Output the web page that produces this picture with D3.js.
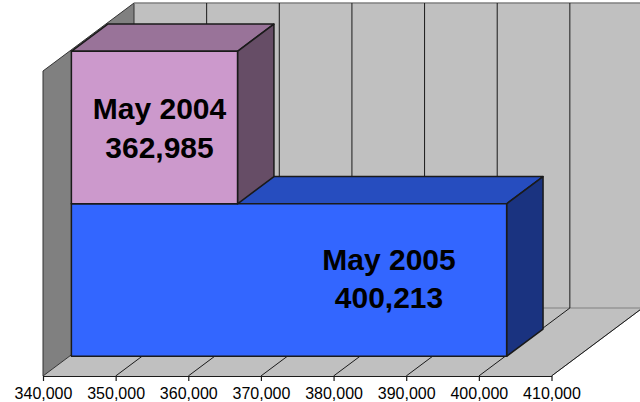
<!DOCTYPE html>
<html>
<head>
<meta charset="utf-8">
<script src="https://cdnjs.cloudflare.com/ajax/libs/d3/7.8.5/d3.min.js"></script>
<style>
    html, body { margin: 0; padding: 0; background: #fff; overflow: hidden; }
    text { font-family: "Liberation Sans", Arial, sans-serif; fill: #000; }
</style>
</head>
<body>
<svg id="chart" width="640" height="402"></svg>
<script>
// Chart data
const categories = ["May 2005", "May 2004"];
const values = [400213, 362985];
const tickValues = [340000, 350000, 360000, 370000, 380000, 390000, 400000, 410000];

// Colours
const wallColour = "#C0C0C0";
const sideWallColour = "#808080";
const lineColour = "#1A1A1A";
const barColours = [
    { front: "#3366FF", top: "#264DBF", side: "#1A3380" },
    { front: "#CC99CC", top: "#997399", side: "#664D66" }
];

const svg = d3.select("#chart");

const x = d3.scaleLinear().domain([340000, 410000]).range([43, 551.5]);
const barX = d3.scaleLinear().domain([340000, 410000]).range([45, 551]);
const y = d3.scaleBand().domain(categories).range([376, 71]);

// Depth of the 3d box, 0 is the front edge and 1 the back wall
const depthX = d3.scaleLinear().domain([0, 1]).range([0, 91]);
const depthY = d3.scaleLinear().domain([0, 1]).range([0, -68]);
const barFront = 0.29;
const barBack = 0.69;

// Project a value / height / depth onto the screen
function pt(xPix, yPix, depth) {
    return [xPix + depthX(depth), yPix + depthY(depth)];
}
function face(points) {
    return "M" + points.map(p => p.join(",")).join("L") + "Z";
}

const xMin = x.range()[0], xMax = x.range()[1];
const yBottom = y.range()[0], yTop = y.range()[1];

// Back wall
svg.append("path")
    .attr("d", face([pt(xMin, yTop, 1), pt(xMax, yTop, 1), pt(xMax, yBottom, 1), pt(xMin, yBottom, 1)]))
    .attr("fill", wallColour);
// Floor
svg.append("path")
    .attr("d", face([pt(xMin, yBottom, 0), pt(xMax, yBottom, 0), pt(xMax, yBottom, 1), pt(xMin, yBottom, 1)]))
    .attr("fill", wallColour);
// Left wall
svg.append("path")
    .attr("d", face([pt(xMin, yBottom, 0), pt(xMin, yTop, 0), pt(xMin, yTop, 1), pt(xMin, yBottom, 1)]))
    .attr("fill", sideWallColour)
    .attr("stroke", "#333")
    .attr("stroke-width", 1);

// Top edge of the back wall and edge of the floor
svg.append("line")
    .attr("x1", pt(xMin, yTop, 1)[0]).attr("y1", pt(xMin, yTop, 1)[1])
    .attr("x2", pt(xMax, yTop, 1)[0]).attr("y2", pt(xMax, yTop, 1)[1])
    .attr("stroke", "#808080").attr("stroke-width", 1.5);
svg.append("line")
    .attr("x1", pt(xMin, yBottom, 1)[0]).attr("y1", pt(xMin, yBottom, 1)[1])
    .attr("x2", pt(xMax, yBottom, 1)[0]).attr("y2", pt(xMax, yBottom, 1)[1])
    .attr("stroke", "#808080").attr("stroke-width", 1);
svg.append("line")
    .attr("x1", pt(xMax, yBottom, 0)[0]).attr("y1", pt(xMax, yBottom, 0)[1])
    .attr("x2", pt(xMax, yBottom, 1)[0]).attr("y2", pt(xMax, yBottom, 1)[1])
    .attr("stroke", "#808080").attr("stroke-width", 1);

// Gridlines over floor and back wall
svg.append("g").selectAll("path")
    .data(tickValues.slice(1))
    .enter()
    .append("path")
    .attr("d", d => {
        const a = pt(x(d), yBottom, 0), b = pt(x(d), yBottom, 1), c = pt(x(d), yTop, 1);
        return "M" + a.join(",") + "L" + b.join(",") + "L" + c.join(",");
    })
    .attr("fill", "none")
    .attr("stroke", lineColour)
    .attr("stroke-width", 1);

// Bars, bottom one first so the upper one sits on top of it
categories.forEach((cat, i) => {
    const x0 = barX.range()[0], x1 = barX(values[i]);
    const yLow = y(cat) + y.bandwidth(), yHigh = y(cat);
    const g = svg.append("g")
        .attr("stroke", lineColour)
        .attr("stroke-width", 1.5)
        .attr("stroke-linejoin", "round");
    g.append("path")
        .attr("d", face([pt(x0, yHigh, barFront), pt(x1, yHigh, barFront), pt(x1, yHigh, barBack), pt(x0, yHigh, barBack)]))
        .attr("fill", barColours[i].top);
    g.append("path")
        .attr("d", face([pt(x1, yLow, barFront), pt(x1, yHigh, barFront), pt(x1, yHigh, barBack), pt(x1, yLow, barBack)]))
        .attr("fill", barColours[i].side);
    g.append("path")
        .attr("d", face([pt(x0, yLow, barFront), pt(x1, yLow, barFront), pt(x1, yHigh, barFront), pt(x0, yHigh, barFront)]))
        .attr("fill", barColours[i].front);
});

// Data labels
const labelX = [389, 159.5];
const labelY = [269.5, 119];
categories.forEach((cat, i) => {
    const t = svg.append("text")
        .attr("text-anchor", "middle")
        .attr("font-size", 30)
        .attr("font-weight", "bold");
    t.append("tspan").attr("x", labelX[i]).attr("y", labelY[i]).text(cat);
    t.append("tspan").attr("x", labelX[i]).attr("y", labelY[i] + 38.5).text(d3.format(",")(values[i]));
});

// Value axis
const axis = d3.axisBottom(x)
    .tickValues(tickValues)
    .tickFormat(d3.format(","))
    .tickSizeInner(5)
    .tickSizeOuter(0)
    .tickPadding(7);
const axisG = svg.append("g")
    .attr("transform", `translate(0,${yBottom})`)
    .call(axis);
axisG.selectAll("text")
    .attr("font-family", null)
    .style("font-size", "16px");
axisG.selectAll("line, path").attr("stroke", lineColour).attr("stroke-width", 1.2);
</script>
</body>
</html>
